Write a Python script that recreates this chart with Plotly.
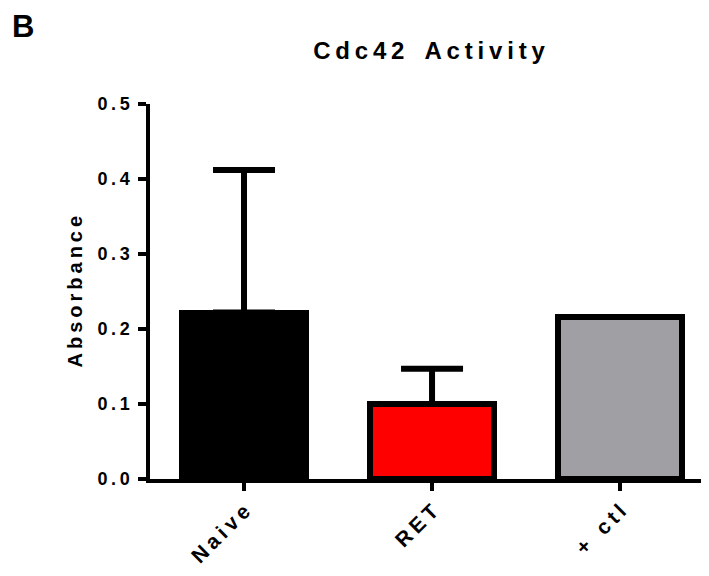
import plotly.graph_objects as go

categories = ["Naive", "RET", "+ ctl"]
means = [0.222, 0.100, 0.216]
sd_upper = [0.190, 0.047, None]
bar_colors = ["#000000", "#ff0000", "#a09fa4"]
y_ticks = [0.0, 0.1, 0.2, 0.3, 0.4, 0.5]

TS = "\u2009"  # thin space used to mimic letter spacing


def spaced(s, gap=TS, word="\u00a0\u00a0\u00a0"):
    out = []
    for i, ch in enumerate(s):
        if ch == " ":
            out.append(word)
            continue
        out.append(ch)
        if i < len(s) - 1 and s[i + 1] != " ":
            out.append(gap)
    return "".join(out)


tick_text = [spaced(f"{v:.1f}") for v in y_ticks]
cat_text = [spaced(c, gap=TS, word="\u00a0\u00a0" + TS) for c in categories]

FONT = "Liberation Sans, Arial, sans-serif"
OFF = 8  # page body margin of the rendered html

fig = go.Figure()
fig.add_trace(go.Bar(
    x=categories,
    y=means,
    width=0.66,
    marker=dict(color=bar_colors, line=dict(color="#000000", width=6)),
    error_y=dict(type="data", symmetric=False, array=sd_upper,
                 arrayminus=[0, 0, None], color="#000000",
                 thickness=6, width=31, visible=True),
    showlegend=False,
))

fig.update_layout(
    width=709 - OFF, height=576 - OFF,
    margin=dict(l=150 - OFF, r=0, t=104 - OFF, b=97),
    paper_bgcolor="white", plot_bgcolor="white",
    font=dict(family=FONT, color="#000000"),
    title=dict(text="<b>" + spaced("Cdc42 Activity") + "</b>",
               x=(429 - OFF) / (709 - OFF), xanchor="center",
               y=1 - (51 - OFF) / (576 - OFF), yanchor="middle",
               yref="container",
               font=dict(size=24, family=FONT, color="#000000")),
    bargap=0,
)

fig.update_xaxes(
    range=[-0.5, 2.473],
    tickmode="array", tickvals=categories, ticktext=cat_text,
    tickangle=-45, ticks="outside", ticklen=8, tickwidth=3.5,
    tickcolor="#000000",
    showline=True, linewidth=3.5, linecolor="#000000",
    showgrid=False, zeroline=False,
    tickfont=dict(size=21, family=FONT, weight="bold"),
)
fig.update_yaxes(
    range=[0, 0.5],
    tickmode="array", tickvals=y_ticks, ticktext=tick_text,
    ticks="outside", ticklen=8, tickwidth=3.5, tickcolor="#000000",
    showline=True, linewidth=3.5, linecolor="#000000",
    showgrid=False, zeroline=False, ticklabelstandoff=5,
    tickfont=dict(size=18, family=FONT, weight="bold"),
)

fig.add_annotation(
    text="<b>" + spaced("Absorbance") + "</b>",
    xref="paper", yref="paper", x=(74 - 150) / 559, y=0.5,
    xanchor="center", yanchor="middle", textangle=-90, showarrow=False,
    font=dict(size=20, family=FONT, color="#000000"),
)
fig.add_annotation(
    text="<b>B</b>",
    xref="paper", yref="paper", x=(11 - 150) / 559, y=(479 - OFF) / 375,
    xanchor="left", yanchor="top", showarrow=False, borderpad=0,
    font=dict(size=31, family=FONT, color="#000000"),
)

fig.write_html("out.html")
